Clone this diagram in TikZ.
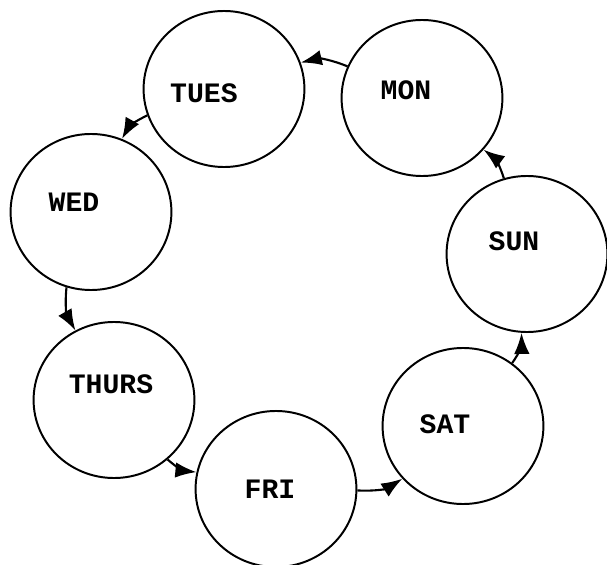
\documentclass[tikz,border=0pt]{standalone}
\usepackage{fontspec}
\setmonofont{Liberation Mono}
\usetikzlibrary{shapes.geometric,arrows.meta}
\begin{document}
\begin{tikzpicture}[x=0.025cm,y=-0.025cm,
  day/.style={draw, ellipse, line width=1.4pt, minimum width=4.02cm, minimum height=3.9cm, inner sep=0pt},
  dayname/.style={font=\fontsize{20}{24}\selectfont\ttfamily\bfseries, inner sep=0pt},
  link/.style={line width=1.5pt, -{Latex[length=15pt,width=11pt]}, bend right=18}]
\useasboundingbox (0,0) rectangle (607,565);
\node[day] (mon) at (422,98) {};
\node[day] (tues) at (224,89) {};
\node[day] (wed) at (91,212) {};
\node[day] (thurs) at (114,400) {};
\node[day] (fri) at (276,489) {};
\node[day] (sat) at (463,426) {};
\node[day] (sun) at (527,254) {};
\node[dayname] (montext) at (406,90) {MON};
\node[dayname] (tuestext) at (204,93) {TUES};
\node[dayname] (wedtext) at (74,202) {WED};
\node[dayname] (thurstext) at (111,384) {THURS};
\node[dayname] (fritext) at (270,489) {FRI};
\node[dayname] (sattext) at (445,424) {SAT};
\node[dayname] (suntext) at (514,241) {SUN};
\draw[link] (mon.157) to (tues.19);
\draw[link] (tues.199) to (wed.67);
\draw[link] (wed.252) to (thurs.119);
\draw[link] (thurs.-48) to (fri.168);
\draw[link] (fri.-1) to (sat.221);
\draw[link] (sat.52) to (sun.266);
\draw[link] (sun.107) to (mon.-40);
\end{tikzpicture}
\end{document}
